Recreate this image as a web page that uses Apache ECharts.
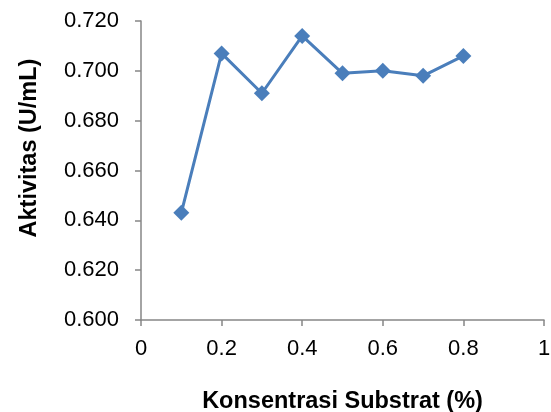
<!DOCTYPE html>
<html>
<head>
<meta charset="utf-8">
<script src="https://cdn.jsdelivr.net/npm/echarts@6/dist/echarts.min.js"></script>
<style>
  html, body { margin: 0; padding: 0; background: #fff; }
  #chart { width: 551px; height: 412px; }
</style>
</head>
<body>
<div id="chart"></div>
<script>
// konsentrasi substrat (%) vs aktivitas (U/mL)
var konsentrasi = [0.1, 0.2, 0.3, 0.4, 0.5, 0.6, 0.7, 0.8];
var aktivitas = [0.643, 0.707, 0.691, 0.714, 0.699, 0.700, 0.698, 0.706];
var xTitle = 'Konsentrasi Substrat (%)';
var yTitle = 'Aktivitas (U/mL)';

var font = '"Liberation Sans", Arial, sans-serif';
var axisGrey = '#868686';

var points = konsentrasi.map((x, i) => [x, aktivitas[i]]);

var chart = echarts.init(document.getElementById('chart'));
chart.setOption({
    animation: false,
    grid: {
        left: 141,
        right: 7,
        top: 21,
        bottom: 92,
        containLabel: false,
        outerBoundsMode: 'none'
    },
    xAxis: {
        type: 'value',
        min: 0,
        max: 1,
        interval: 0.2,
        name: xTitle,
        nameLocation: 'middle',
        nameGap: 70,
        nameTextStyle: {
            fontFamily: font,
            fontWeight: 'bold',
            fontSize: 23.5,
            color: '#000'
        },
        axisLine: { show: true, lineStyle: { color: axisGrey, width: 1.5 } },
        axisTick: { show: true, length: 6, lineStyle: { color: axisGrey, width: 1.5 } },
        splitLine: { show: false },
        axisLabel: {
            margin: 18,
            fontFamily: font,
            fontSize: 22,
            color: '#000'
        }
    },
    yAxis: {
        type: 'value',
        min: 0.6,
        max: 0.72,
        interval: 0.02,
        axisLine: { show: true, lineStyle: { color: axisGrey, width: 1.5 } },
        axisTick: { show: true, length: 6, lineStyle: { color: axisGrey, width: 1.5 } },
        splitLine: { show: false },
        axisLabel: {
            margin: 22,
            fontFamily: font,
            fontSize: 22,
            color: '#000',
            formatter: (v) => v.toFixed(3)
        }
    },
    graphic: [{
        type: 'text',
        x: 30,
        y: 148,
        rotation: Math.PI / 2,
        style: {
            text: yTitle,
            fontFamily: font,
            fontWeight: 'bold',
            fontSize: 23.5,
            fill: '#000',
            align: 'center',
            verticalAlign: 'middle'
        }
    }],
    series: [{
        type: 'line',
        data: points,
        symbol: 'diamond',
        symbolSize: 16,
        lineStyle: { color: '#4A7EBB', width: 3 },
        itemStyle: { color: '#4A7EBB' }
    }]
});
</script>
</body>
</html>
